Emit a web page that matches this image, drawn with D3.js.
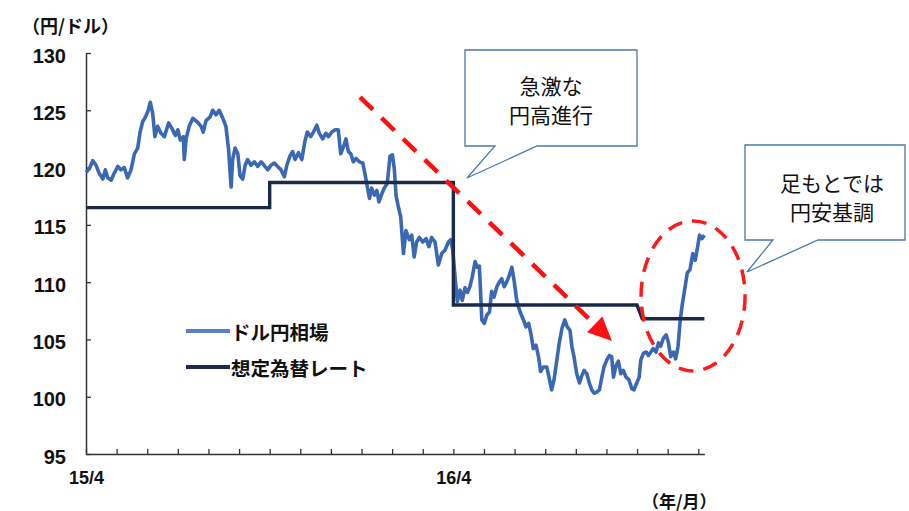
<!DOCTYPE html>
<html>
<head>
<meta charset="utf-8">
<script src="https://cdn.jsdelivr.net/npm/d3@7"></script>
<style>
  body { margin: 0; background: #fff; }
  svg { display: block; }
</style>
</head>
<body>
<div id="chart"></div>
<script>
// months after 2015/4 (fractional) and the dollar-yen rate
const months = [
  0.00, 0.11, 0.22, 0.33, 0.43, 0.55, 0.63, 0.71, 0.82, 0.92, 1.04, 1.14, 1.25, 1.36, 1.47, 1.58, 1.69, 1.76, 1.85, 1.94,
  2.02, 2.10, 2.18, 2.25, 2.34, 2.45, 2.56, 2.70, 2.81, 2.92, 3.00, 3.08, 3.18, 3.21, 3.27, 3.37, 3.49, 3.63, 3.76, 3.83,
  3.92, 4.05, 4.14, 4.25, 4.35, 4.47, 4.57, 4.66, 4.74, 4.79, 4.87, 4.96, 5.03, 5.12, 5.20, 5.28, 5.39, 5.50, 5.61, 5.72,
  5.82, 5.94, 6.04, 6.15, 6.26, 6.37, 6.48, 6.56, 6.66, 6.75, 6.83, 6.94, 7.05, 7.15, 7.23, 7.34, 7.43, 7.54, 7.62, 7.73,
  7.84, 7.92, 8.03, 8.14, 8.24, 8.32, 8.41, 8.49, 8.57, 8.65, 8.73, 8.82, 8.93, 9.04, 9.11, 9.19, 9.26, 9.33, 9.42, 9.50,
  9.57, 9.66, 9.74, 9.84, 9.93, 10.01, 10.07, 10.13, 10.20, 10.28, 10.37, 10.45, 10.56, 10.64, 10.72, 10.80, 10.89, 11.00, 11.11, 11.20,
  11.29, 11.40, 11.51, 11.62, 11.73, 11.84, 11.91, 11.98, 12.05, 12.13, 12.22, 12.29, 12.38, 12.46, 12.54, 12.62, 12.71, 12.78, 12.85, 12.93,
  13.01, 13.09, 13.18, 13.25, 13.33, 13.42, 13.50, 13.58, 13.66, 13.74, 13.83, 13.91, 13.98, 14.07, 14.18, 14.29, 14.37, 14.46, 14.54, 14.61,
  14.70, 14.78, 14.85, 14.94, 15.05, 15.14, 15.21, 15.29, 15.38, 15.46, 15.55, 15.64, 15.72, 15.81, 15.87, 15.94, 16.03, 16.12, 16.19, 16.27,
  16.36, 16.44, 16.52, 16.60, 16.68, 16.77, 16.85, 16.92, 17.01, 17.10, 17.17, 17.23, 17.31, 17.39, 17.47, 17.55, 17.64, 17.73, 17.83, 17.90,
  17.99, 18.07, 18.12, 18.21, 18.30, 18.37, 18.45, 18.53, 18.62, 18.70, 18.77, 18.86, 18.95, 19.02, 19.10, 19.19, 19.26, 19.34, 19.41, 19.48,
  19.57, 19.64, 19.73, 19.82, 19.90, 19.98, 20.04, 20.12, 20.20
];
const usdjpy = [
  119.6, 119.9, 120.6, 120.2, 119.5, 119.0, 119.8, 119.1, 118.9, 119.5, 120.1, 119.8, 120.0, 119.1, 119.8, 121.2, 121.7, 123.0, 124.0, 124.4,
  124.9, 125.7, 124.7, 122.7, 123.6, 123.0, 122.7, 123.9, 123.4, 122.8, 123.3, 122.4, 122.7, 120.7, 122.5, 123.6, 124.3, 124.0, 123.6, 123.1,
  124.1, 124.4, 125.0, 124.6, 125.0, 124.3, 123.6, 121.5, 118.3, 120.7, 121.7, 121.2, 119.3, 119.0, 120.2, 120.7, 120.2, 120.5, 120.1, 120.5,
  120.2, 119.8, 120.2, 120.4, 120.1, 119.8, 119.2, 120.2, 121.0, 121.4, 120.7, 121.3, 120.7, 122.3, 123.1, 122.7, 123.1, 123.7, 123.0, 122.5,
  123.0, 122.7, 123.1, 123.3, 123.3, 121.2, 121.8, 122.5, 121.4, 121.2, 120.5, 120.8, 120.5, 120.4, 119.5, 118.3, 117.3, 118.2, 117.6, 118.0,
  117.0, 117.7, 118.2, 118.6, 121.0, 121.1, 119.9, 117.5, 116.6, 115.7, 112.5, 114.5, 113.7, 114.1, 112.2, 113.5, 113.9, 113.5, 113.8, 113.1,
  113.9, 113.5, 111.5, 112.5, 112.8, 113.5, 113.7, 112.8, 110.6, 108.3, 109.3, 108.4, 109.5, 109.1, 109.6, 110.5, 111.8, 111.3, 111.4, 106.7,
  106.4, 107.1, 107.4, 109.2, 108.7, 109.6, 110.0, 110.3, 109.6, 110.0, 110.6, 111.3, 110.2, 108.4, 107.4, 106.7, 106.1, 106.4, 105.4, 104.2,
  104.5, 103.5, 102.2, 102.6, 102.6, 101.5, 100.6, 101.5, 103.2, 104.7, 106.0, 106.7, 106.1, 105.8, 104.4, 103.5, 102.0, 101.2, 101.8, 102.3,
  102.0, 101.2, 100.6, 100.3, 100.4, 100.6, 101.7, 102.6, 103.2, 103.6, 103.5, 101.7, 102.7, 103.1, 102.0, 102.3, 101.7, 101.5, 100.7, 100.6,
  101.2, 101.7, 103.2, 103.8, 103.9, 103.6, 103.9, 104.2, 103.9, 104.7, 104.4, 105.1, 105.4, 104.8, 103.5, 103.9, 103.3, 104.4, 106.7, 108.1,
  109.6, 110.8, 111.1, 112.5, 111.9, 113.1, 114.1, 113.8, 114.1
];

// planned exchange rate (step line)
const planMonths = [0, 6, 6, 12, 12, 18, 18.17, 20.2];
const planRate = [116.5, 116.5, 118.7, 118.7, 108, 108, 106.8, 106.8];

const yTicks = [95, 100, 105, 110, 115, 120, 125, 130];
const xTicks = d3.range(0, 21);
const xTickLabels = { 0: "15/4", 12: "16/4" };

const seriesNames = ["ドル円相場", "想定為替レート"];
const callout1 = ["急激な", "円高進行"];
const callout2 = ["足もとでは", "円安基調"];

const width = 909, height = 511;
const font = "'Noto Sans CJK JP', 'Liberation Sans', sans-serif";

const svg = d3.select("#chart").append("svg")
  .attr("width", width)
  .attr("height", height)
  .style("font-family", font);

var x = d3.scaleLinear().domain([0, 20.2]).range([86, 704.4]);
var y = d3.scaleLinear().domain([95, 130]).range([454, 53]);

// y axis
svg.append("g")
  .attr("transform", "translate(" + x(0) + ",0)")
  .call(d3.axisLeft(y).tickValues(yTicks).tickSize(-5).tickSizeOuter(0).tickPadding(20))
  .call(g => g.select(".domain").attr("stroke", "#333").attr("stroke-width", 1.5))
  .call(g => g.selectAll(".tick line").attr("stroke", "#333").attr("stroke-width", 1.3))
  .selectAll("text")
  .attr("fill", "#111")
  .style("font-size", "20px")
  .style("font-weight", "bold")
  .attr("dy", "0.45em");

// x axis
svg.append("g")
  .attr("transform", "translate(0," + y(95) + ")")
  .call(d3.axisBottom(x).tickValues(xTicks).tickSize(-5).tickSizeOuter(0).tickPadding(17)
    .tickFormat(d => xTickLabels[d] || ""))
  .call(g => g.select(".domain").attr("stroke", "#333").attr("stroke-width", 1.5))
  .call(g => g.selectAll(".tick line").attr("stroke", "#333").attr("stroke-width", 1.3))
  .selectAll("text")
  .attr("fill", "#111")
  .style("font-size", "18px")
  .style("font-weight", "bold");

// unit labels
svg.append("text").attr("x", 22).attr("y", 25).attr("dominant-baseline", "central")
  .style("font-size", "18px").style("font-weight", "bold").attr("fill", "#111")
  .text("（円/ドル）");
svg.append("text").attr("x", 642).attr("y", 500).attr("dominant-baseline", "central")
  .style("font-size", "17px").style("font-weight", "bold").attr("fill", "#111")
  .text("（年/月）");

// dollar-yen line
const rateData = months.map((m, i) => ({ m: m, v: usdjpy[i] }));
const line = d3.line().x(d => x(d.m)).y(d => y(d.v));
svg.append("path")
  .datum(rateData)
  .attr("fill", "none")
  .attr("stroke", "#3a68b4")
  .attr("stroke-width", 3.6)
  .attr("stroke-linejoin", "round")
  .attr("d", line);

// planned rate
const planData = planMonths.map((m, i) => ({ m: m, v: planRate[i] }));
svg.append("path")
  .datum(planData)
  .attr("fill", "none")
  .attr("stroke", "#1b2a48")
  .attr("stroke-width", 3.4)
  .attr("d", line);

// legend
const legendColors = ["#5a7fc6", "#1b2a48"];
seriesNames.forEach((name, i) => {
  const ly = 331 + i * 36;
  svg.append("line").attr("x1", 186).attr("x2", 230).attr("y1", ly).attr("y2", ly)
    .attr("stroke", legendColors[i]).attr("stroke-width", 4);
  svg.append("text").attr("x", 231).attr("y", ly).attr("dominant-baseline", "central")
    .style("font-size", "19.5px").style("font-weight", "bold").attr("fill", "#111")
    .text(name);
});

// red dashed arrow
const a0 = [x(8.95), y(126.15)], a1 = [x(17.18), y(104.86)];
const ang = Math.atan2(a1[1] - a0[1], a1[0] - a0[0]);
const headLen = 24, headW = 11;
const base = [a1[0] - headLen * Math.cos(ang), a1[1] - headLen * Math.sin(ang)];
svg.append("line")
  .attr("x1", a0[0]).attr("y1", a0[1]).attr("x2", base[0]).attr("y2", base[1])
  .attr("stroke", "#ff1010").attr("stroke-width", 4.5).attr("stroke-dasharray", "18,12");
svg.append("path")
  .attr("d", "M" + a1 + "L" + [base[0] + headW * Math.sin(ang), base[1] - headW * Math.cos(ang)] +
    "L" + [base[0] - headW * Math.sin(ang), base[1] + headW * Math.cos(ang)] + "Z")
  .attr("fill", "#ff1010");

// red dashed ellipse
svg.append("ellipse")
  .attr("cx", x(19.83)).attr("cy", y(108.8)).attr("rx", 52).attr("ry", 75)
  .attr("fill", "none").attr("stroke", "#ff1a1a").attr("stroke-width", 3.5)
  .attr("stroke-dasharray", "15,10");

// callouts
function callout(l, t, r, b, p1, p2, tip, lines, cx, cy) {
  svg.append("path")
    .attr("d", "M" + l + "," + t + "H" + r + "V" + b + "H" + p2 + "L" + tip + "L" + p1 + "," + b + "H" + l + "Z")
    .attr("fill", "#fff").attr("stroke", "#4a78b0").attr("stroke-width", 1.3);
  lines.forEach((s, i) => {
    svg.append("text").attr("x", cx).attr("y", cy + i * 29)
      .attr("text-anchor", "middle").attr("dominant-baseline", "central")
      .style("font-size", "21px").attr("fill", "#111").text(s);
  });
}
callout(465, 50, 637, 146, 495, 537, [467, 178], callout1, 551, 85);
callout(745, 145, 905, 240, 773, 818, [747, 272], callout2, 832, 182);
</script>
</body>
</html>
